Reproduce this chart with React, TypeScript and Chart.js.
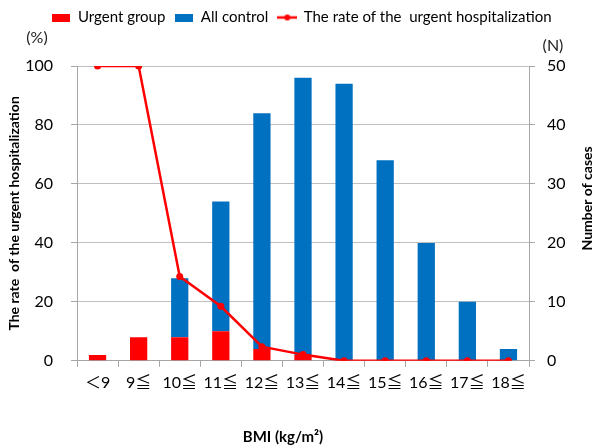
import React, { useEffect, useRef } from "react";
import { Chart, registerables } from "chart.js";

Chart.register(...registerables);

const categories = ["＜9", "9≦", "10≦", "11≦", "12≦", "13≦", "14≦", "15≦", "16≦", "17≦", "18≦"];
const urgentGroup = [1, 4, 4, 5, 2, 1, 0, 0, 0, 0, 0];
const allControl = [0, 0, 10, 22, 40, 47, 47, 34, 20, 10, 2];
const urgentRate = [100, 100, 28.6, 18.5, 4.8, 2.1, 0, 0, 0, 0, 0];
const rateTicks = [0, 20, 40, 60, 80, 100];
const caseTicks = [0, 10, 20, 30, 40, 50];

const FONT = "Lato, 'Noto Sans CJK JP', sans-serif";
const RED = "#FF0000";
const BLUE = "#0070C0";
const GRID = "#BFBFBF";
const AXIS = "#A6A6A6";

function boxIcon(color: string) {
  const c = document.createElement("canvas");
  c.width = 18;
  c.height = 8;
  const ctx = c.getContext("2d")!;
  ctx.fillStyle = color;
  ctx.fillRect(0, 0, 18, 8);
  return c;
}

function lineIcon(color: string) {
  const c = document.createElement("canvas");
  c.width = 20;
  c.height = 8;
  const ctx = c.getContext("2d")!;
  ctx.strokeStyle = color;
  ctx.lineWidth = 2.5;
  ctx.beginPath();
  ctx.moveTo(0, 4);
  ctx.lineTo(20, 4);
  ctx.stroke();
  ctx.fillStyle = color;
  ctx.beginPath();
  ctx.arc(10, 4, 3, 0, Math.PI * 2);
  ctx.fill();
  return c;
}

export default function App() {
  const ref = useRef<HTMLCanvasElement | null>(null);

  useEffect(() => {
    if (!ref.current) return;
    const icons = [boxIcon(RED), boxIcon(BLUE), lineIcon(RED)];

    const legendSpace = {
      id: "legendSpace",
      beforeInit(chart: any) {
        const orig = chart.legend.fit;
        chart.legend.fit = function () {
          orig.bind(chart.legend)();
          this.height += 31;
        };
      },
    };

    const extraText = {
      id: "extraText",
      afterDraw(chart: any) {
        const { ctx, chartArea } = chart;
        ctx.save();
        ctx.font = `16px ${FONT}`;
        ctx.fillStyle = "#222";
        ctx.textAlign = "center";
        ctx.textBaseline = "middle";
        ctx.fillText("(%)", chartArea.left - 40, chartArea.top - 28);
        ctx.fillText("(N)", chartArea.right + 24, chartArea.top - 20);

        ctx.fillStyle = "#000";
        ctx.font = `bold 15px ${FONT}`;
        const xs = chart.scales.x;
        ctx.fillText("BMI (kg/m²)", (chartArea.left + chartArea.right) / 2 - 20, xs.bottom + 39);

        const ys = chart.scales.y1;
        ctx.font = `bold 14px ${FONT}`;
        ctx.translate(ys.right - 13, (chartArea.top + chartArea.bottom) / 2 - 15);
        ctx.rotate(-Math.PI / 2);
        ctx.fillText("Number of cases", 0, 0);
        ctx.restore();
      },
    };

    const chart = new Chart(ref.current, {
      type: "bar",
      data: {
        labels: categories,
        datasets: [
          {
            type: "line",
            label: "The rate of the  urgent hospitalization",
            data: urgentRate,
            yAxisID: "y",
            borderColor: RED,
            backgroundColor: RED,
            borderWidth: 2.5,
            pointRadius: 3.5,
            pointBackgroundColor: RED,
            pointBorderWidth: 0,
            tension: 0,
            order: 0,
          } as any,
          {
            type: "bar",
            label: "Urgent group",
            data: urgentGroup,
            yAxisID: "y1",
            backgroundColor: RED,
            barPercentage: 0.42,
            categoryPercentage: 1,
            stack: "s",
            order: 1,
          },
          {
            type: "bar",
            label: "All control",
            data: allControl,
            yAxisID: "y1",
            backgroundColor: BLUE,
            barPercentage: 0.42,
            categoryPercentage: 1,
            stack: "s",
            order: 2,
          },
        ],
      },
      options: {
        animation: false,
        responsive: false,
        layout: { padding: { left: 4, right: 0, top: 0, bottom: 49 } },
        plugins: {
          tooltip: { enabled: false },
          legend: {
            position: "top",
            labels: {
              usePointStyle: true,
              pointStyleWidth: 18,
              padding: 10,
              color: "#222",
              font: { family: FONT, size: 15 },
              generateLabels: () => [
                { text: "Urgent group", pointStyle: icons[0], datasetIndex: 1, fillStyle: RED, strokeStyle: RED, lineWidth: 0, hidden: false },
                { text: "All control", pointStyle: icons[1], datasetIndex: 2, fillStyle: BLUE, strokeStyle: BLUE, lineWidth: 0, hidden: false },
                { text: "The rate of the  urgent hospitalization", pointStyle: icons[2], datasetIndex: 0, fillStyle: RED, strokeStyle: RED, lineWidth: 0, hidden: false },
              ] as any,
            },
          },
        },
        scales: {
          x: {
            stacked: true,
            grid: {
              display: true,
              drawOnChartArea: false,
              offset: true,
              tickLength: 6,
              color: AXIS,
            },
            border: { color: AXIS },
            ticks: { color: "#000", font: { family: FONT, size: 16 }, padding: 6, maxRotation: 0 },
          },
          y: {
            position: "left",
            min: 0,
            max: 100,
            afterBuildTicks: (s: any) => {
              s.ticks = rateTicks.map((v) => ({ value: v }));
            },
            afterFit: (s: any) => {
              s.width = 73;
            },
            grid: { color: GRID, tickLength: 6, tickColor: AXIS },
            border: { color: AXIS },
            ticks: { color: "#000", font: { family: FONT, size: 16 }, padding: 18 },
            title: {
              display: true,
              text: "The rate  of the urgent hospitalization",
              color: "#000",
              font: { family: FONT, size: 14, weight: "bold" },
              padding: { top: 2, bottom: 0 },
            },
          },
          y1: {
            position: "right",
            stacked: true,
            min: 0,
            max: 50,
            afterBuildTicks: (s: any) => {
              s.ticks = caseTicks.map((v) => ({ value: v }));
            },
            afterFit: (s: any) => {
              s.width = 71;
            },
            grid: { drawOnChartArea: false, tickLength: 6, color: AXIS },
            border: { color: AXIS },
            ticks: { color: "#000", font: { family: FONT, size: 16 }, padding: 12 },
          },
        },
      },
      plugins: [legendSpace, extraText],
    });

    return () => chart.destroy();
  }, []);

  return (
    <div style={{ position: "fixed", left: 0, top: 0, width: 600, height: 447, background: "#fff" }}>
      <canvas ref={ref} width={600} height={447} style={{ width: 600, height: 447 }} />
    </div>
  );
}
